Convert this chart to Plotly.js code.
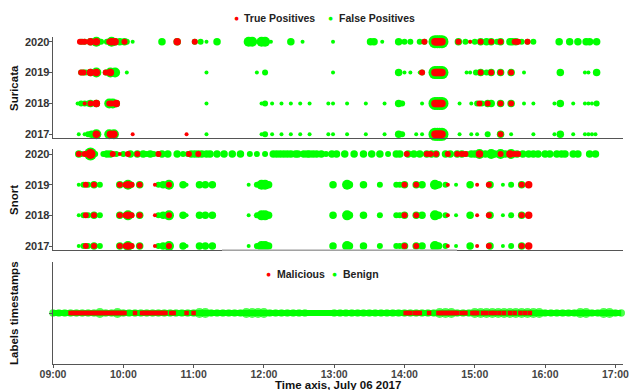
<!DOCTYPE html>
<html><head><meta charset="utf-8">
<script src="https://cdn.plot.ly/plotly-3.0.1.min.js"></script>
<style>html,body{margin:0;padding:0;background:#fff}#chart{width:632px;height:390px}</style>
</head><body><div id="chart"></div>
<script>
// Time values are minutes after 09:00 on July 06 2017.
// Weights are relative alert-count levels (1 = few ... 5 = many).
const hourTicks  = [0, 60, 120, 180, 240, 300, 360, 420, 480];
const hourLabels = ["09:00","10:00","11:00","12:00","13:00","14:00","15:00","16:00","17:00"];
const years = [2017, 2018, 2019, 2020];
const legendTop = ["True Positives", "False Positives"];
const legendBottom = ["Malicious", "Benign"];

// ---------- Suricata ----------
const suri2020_fp_t = [24,27,32,37,41,46,50,53,57,61,63,68,93,106,121,126,131,140,167,170,178,181,186,203,213,239,271,274,281,295,300,305,313,317,326,328,330,332,346,352,356,360,365,370,374,379,382,390,392,395,400,405,410,432,441,448,455,458,464];
const suri2020_fp_w = [2,2,3,4,2,2,4,3,3,3,2,1,3,3,2,2,1,3,4,4,4,4,1,3,1,1,3,3,1,3,2,2,2,2,5,5,5,5,3,2,1,2,3,3,3,2,3,3,3,3,2,2,2,3,3,3,3,3,3];
const suri2020_tp_t = [23,25,27,32,37,48,50,53,61,106,121,317,326,327,328,329,330,331,332,346,356,365,374,382,394,396,397,405];
const suri2020_tp_w = [2,2,2,3,3,2,3,3,2,3,2,2,3,3,3,3,3,3,3,2,1,2,2,2,2,2,2,2];

const suri2019_fp_t = [24,26,28,32,37,45,49,53,63,131,174,181,239,295,300,305,313,315,326,328,330,332,353,356,361,365,370,374,382,391,402,433,454,457,464];
const suri2019_fp_w = [2,2,2,3,4,2,4,4,1,1,1,2,1,3,1,1,1,2,5,5,5,5,1,1,2,3,2,3,3,3,1,3,1,1,3];
const suri2019_tp_t = [24,26,32,37,45,49,315,326,327,328,329,330,331,332,365,374,382,391];
const suri2019_tp_w = [2,2,3,3,2,3,2,3,3,3,3,3,3,3,2,2,2,2];

const suri2018_fp_t = [21,24,27,30,32,37,48,51,54,131,178,181,187,195,203,211,219,235,239,251,267,283,295,298,315,326,328,330,332,347,357,362,366,371,374,382,391,402,410,428,433,444,454,457,460,464];
const suri2018_fp_w = [1,2,2,2,3,3,4,4,3,1,1,2,1,1,1,1,1,1,1,1,1,1,3,2,1,5,5,5,5,1,1,2,2,3,3,3,3,1,1,1,3,1,1,1,1,2];
const suri2018_tp_t = [27,32,37,48,50,54,326,327,328,329,330,331,332,364,371,382,391];
const suri2018_tp_w = [1,2,3,2,2,3,3,3,3,3,3,3,3,2,2,2,2];

const suri2017_fp_t = [22,27,30,33,37,48,52,131,178,181,187,195,203,211,219,235,239,251,267,283,295,298,310,315,326,328,330,332,347,357,362,371,382,391,410,428,433,444,454,457,460,463];
const suri2017_fp_w = [1,1,2,3,4,4,4,1,1,2,1,1,1,1,1,1,1,1,1,1,3,2,1,1,5,5,5,5,1,1,1,2,3,1,1,1,3,1,1,1,1,1];
const suri2017_tp_t = [37,49,52,68,114,326,327,328,329,330,331,332,382];
const suri2017_tp_w = [3,3,3,1,1,3,3,3,3,3,3,3,2];

// ---------- Snort ----------
const snort2020_fp_t = [22,24,29,32,36,43,46,49,54,60,66,72,77,80,83,86,90,93,98,106,111,115,118,121,124,127,131,134,140,146,153,160,168,174,181,188,191,194,197,200,203,207,209,214,217,219,222,225,229,233,238,242,249,257,265,272,279,286,293,296,303,308,313,319,323,327,335,339,345,349,353,357,360,364,369,374,377,382,386,391,396,401,406,410,414,420,424,430,434,437,444,448,458,463];
const snort2020_fp_w = [3,2,2,5,2,2,3,3,2,2,3,3,3,2,3,2,2,3,3,3,2,2,3,3,3,3,3,3,3,3,3,3,2,2,2,3,3,3,3,3,3,3,3,3,3,3,3,3,3,2,3,3,3,3,3,3,3,2,3,3,3,3,3,3,3,3,3,3,3,3,2,3,3,4,3,4,3,4,3,4,3,3,3,3,3,3,3,3,3,3,3,3,3,3];
const snort2020_tp_t = [22,27,32,51,57,64,72,90,116,124,302,319,322,327,337,345,349,352,364,382,390,394,397];
const snort2020_tp_w = [2,2,4,2,1,2,2,2,2,2,2,2,2,2,2,2,2,2,3,2,3,2,2];

// 2017, 2018 and 2019 show the same Snort detections
const snortOld_fp_t = [22,26,30,35,40,57,62,64,67,74,90,94,99,111,114,125,130,136,167,174,178,181,184,239,251,253,265,279,293,296,300,310,315,326,329,335,344,356,373,384,391,400];
const snortOld_fp_w = [1,2,2,3,2,3,2,4,2,3,2,3,4,3,1,3,3,3,1,2,4,4,3,3,4,3,3,2,2,2,3,3,3,4,3,2,1,3,3,1,2,3];
const snortOld_tp_t = [28,35,57,62,64,67,74,87,99,300,310,337,362,372,400,406];
const snortOld_tp_w = [2,2,2,2,3,2,2,1,2,2,2,1,1,2,2,3];

// ---------- Labels timestamps ----------
const benign_t = [0,5,10,15,20,25,30,35,40,45,50,55,60,65,70,75,80,85,90,95,100,105,110,115,120,125,130,135,140,145,150,155,160,165,170,175,180,185,190,195,200,205,210,215,220,225,230,235,240,245,250,255,260,265,270,275,280,285,290,295,300,305,310,315,320,325,330,335,340,345,350,355,360,365,370,375,380,385,390,395,400,405,410,415,420,425,430,435,440,445,450,455,460,465,470,475,480,485];
const benign_w = [3,3,3,3,3,3,3,3,4,3,3,4,3,3,3,3,3,3,3,3,3,3,3,3,3,4,4,3,3,3,3,3,3,4,4,4,4,3,3,3,3,3,3,3,2,1,2,2,3,3,3,3,3,3,3,3,3,3,3,3,3,3,3,3,3,3,4,4,4,3,3,3,4,4,4,4,4,4,4,4,4,4,4,4,3,3,3,3,3,3,4,4,3,3,4,4,3,3];
const malicious_t = [15,17,19,21,23,25,27,29,31,33,35,37,39,41,43,45,47,49,51,53,55,57,59,61,70,76,78,80,82,84,86,88,90,92,94,96,101,103,114,120,301,303,305,309,311,313,321,329,331,333,335,337,339,341,343,345,349,352,358,360,362,367,370,374,377,381,385,390,394,399,403,407];

// ---------- drawing ----------
const GREEN = '#00FF00', RED = '#FF0000';
const SIZE = [0, 4, 6, 7.5, 10, 13];
const FONT = 'Liberation Sans, Arial, Helvetica, sans-serif';

function rowsTrace(rows, color, xa, ya) {
  const x = [], y = [], s = [];
  rows.forEach(([yr, t, w]) => {
    t.forEach((v, i) => { x.push(v); y.push(yr); s.push(SIZE[w[i]]); });
  });
  return {type:'scatter', mode:'markers', x, y, xaxis:xa, yaxis:ya,
    marker:{color, size:s, line:{width:0}, opacity:1},
    showlegend:false, hoverinfo:'skip', cliponaxis:false};
}

const suriFP = rowsTrace([[2020,suri2020_fp_t,suri2020_fp_w],[2019,suri2019_fp_t,suri2019_fp_w],[2018,suri2018_fp_t,suri2018_fp_w],[2017,suri2017_fp_t,suri2017_fp_w]], GREEN, 'x', 'y');
const suriTP = rowsTrace([[2020,suri2020_tp_t,suri2020_tp_w],[2019,suri2019_tp_t,suri2019_tp_w],[2018,suri2018_tp_t,suri2018_tp_w],[2017,suri2017_tp_t,suri2017_tp_w]], RED, 'x', 'y');
const snortFP = rowsTrace([[2020,snort2020_fp_t,snort2020_fp_w],[2019,snortOld_fp_t,snortOld_fp_w],[2018,snortOld_fp_t,snortOld_fp_w],[2017,snortOld_fp_t,snortOld_fp_w]], GREEN, 'x2', 'y2');
const snortTP = rowsTrace([[2020,snort2020_tp_t,snort2020_tp_w],[2019,snortOld_tp_t,snortOld_tp_w],[2018,snortOld_tp_t,snortOld_tp_w],[2017,snortOld_tp_t,snortOld_tp_w]], RED, 'x2', 'y2');

const benignTr = {type:'scatter', mode:'lines+markers', x:benign_t, y:benign_t.map(()=>0.5), xaxis:'x3', yaxis:'y3',
  line:{color:GREEN, width:6}, marker:{color:GREEN, size:benign_w.map(w=>SIZE[w]), line:{width:0}},
  showlegend:false, hoverinfo:'skip', cliponaxis:false};
const malTr = {type:'scatter', mode:'markers', x:malicious_t, y:malicious_t.map(()=>0.5), xaxis:'x3', yaxis:'y3',
  marker:{color:RED, size:4.5, symbol:'square', line:{width:0}}, showlegend:false, hoverinfo:'skip', cliponaxis:false};

const data = [suriFP, suriTP, snortFP, snortTP, benignTr, malTr];

const AX = '#555555';
const baseX = {range:[0,486.5], showline:true, linecolor:AX, linewidth:1.4, showgrid:false, zeroline:false,
  ticks:'', showticklabels:false, fixedrange:true};
const yTickFont = {family:FONT, size:11, color:'#333', weight:'bold'};
const baseY = {showline:true, linecolor:AX, linewidth:1.4, showgrid:false, zeroline:false,
  ticks:'outside', ticklen:3, tickcolor:AX, tickwidth:1, tickvals:years, ticktext:years.map(String),
  tickfont:yTickFont, ticklabelstandoff:-3};

const px2y = p => 1 - p/390, px2x = p => (p-53)/570;
const titleFont = {family:FONT, size:11.5, color:'#111', weight:'bold'};
const legFont = {family:FONT, size:10.5, color:'#222', weight:'bold'};

// legend keys: coloured dot + label (ggplot-style tight spacing)
function legendItem(label, color, dotPx, textPx, yPx) {
  return [
    {text:'\u25CF', xref:'paper', yref:'paper', x:px2x(dotPx), y:px2y(yPx), xanchor:'center', yanchor:'middle',
      showarrow:false, font:{family:FONT, size:8.5, color}},
    {text:label, xref:'paper', yref:'paper', x:px2x(textPx), y:px2y(yPx), xanchor:'left', yanchor:'middle',
      showarrow:false, font:legFont}
  ];
}

const layout = {
  width:632, height:390, margin:{l:53, r:9, t:0, b:0},
  paper_bgcolor:'#fff', plot_bgcolor:'#fff', showlegend:false,
  xaxis: Object.assign({}, baseX, {anchor:'y'}),
  xaxis2: Object.assign({}, baseX, {anchor:'y2', matches:'x'}),
  xaxis3: Object.assign({}, baseX, {anchor:'y3', matches:'x', ticks:'outside', ticklen:3, tickcolor:AX,
    showticklabels:true, tickvals:hourTicks, ticktext:hourLabels, ticklabelstandoff:-3,
    tickfont:{family:FONT, size:10.5, color:'#444', weight:'bold'}}),
  yaxis: Object.assign({}, baseY, {anchor:'x', domain:[px2y(138), px2y(37)], range:[2016.88, 2020.152]}),
  yaxis2: Object.assign({}, baseY, {anchor:'x2', domain:[px2y(250), px2y(149)], range:[2016.87, 2020.163]}),
  yaxis3: Object.assign({}, baseY, {anchor:'x3', domain:[px2y(364), px2y(262)], range:[0,1], tickvals:[0.5], ticktext:['']}),
  annotations: [
    ...legendItem(legendTop[0], RED, 236, 242, 18),
    ...legendItem(legendTop[1], GREEN, 330, 337, 18),
    ...legendItem(legendBottom[0], RED, 268, 275, 274),
    ...legendItem(legendBottom[1], GREEN, 334, 341, 274),
    {text:'Suricata', xref:'paper', yref:'paper', x:px2x(14), y:px2y(88), textangle:-90, showarrow:false, xanchor:'center', yanchor:'middle', font:titleFont},
    {text:'Snort', xref:'paper', yref:'paper', x:px2x(14), y:px2y(200), textangle:-90, showarrow:false, xanchor:'center', yanchor:'middle', font:titleFont},
    {text:'Labels timestamps', xref:'paper', yref:'paper', x:px2x(14), y:px2y(313), textangle:-90, showarrow:false, xanchor:'center', yanchor:'middle', font:titleFont},
    {text:'Time axis, July 06 2017', xref:'paper', yref:'paper', x:0.5, y:px2y(385), showarrow:false, xanchor:'center', yanchor:'middle', font:titleFont}
  ],
  shapes: [
    {type:'line', xref:'paper', yref:'paper', x0:px2x(222), x1:px2x(457), y0:px2y(250), y1:px2y(250), line:{color:'#bdbdbd', width:1.6}, layer:'above'}
  ]
};

Plotly.newPlot('chart', data, layout, {staticPlot:true, displayModeBar:false});
</script>
</body></html>
